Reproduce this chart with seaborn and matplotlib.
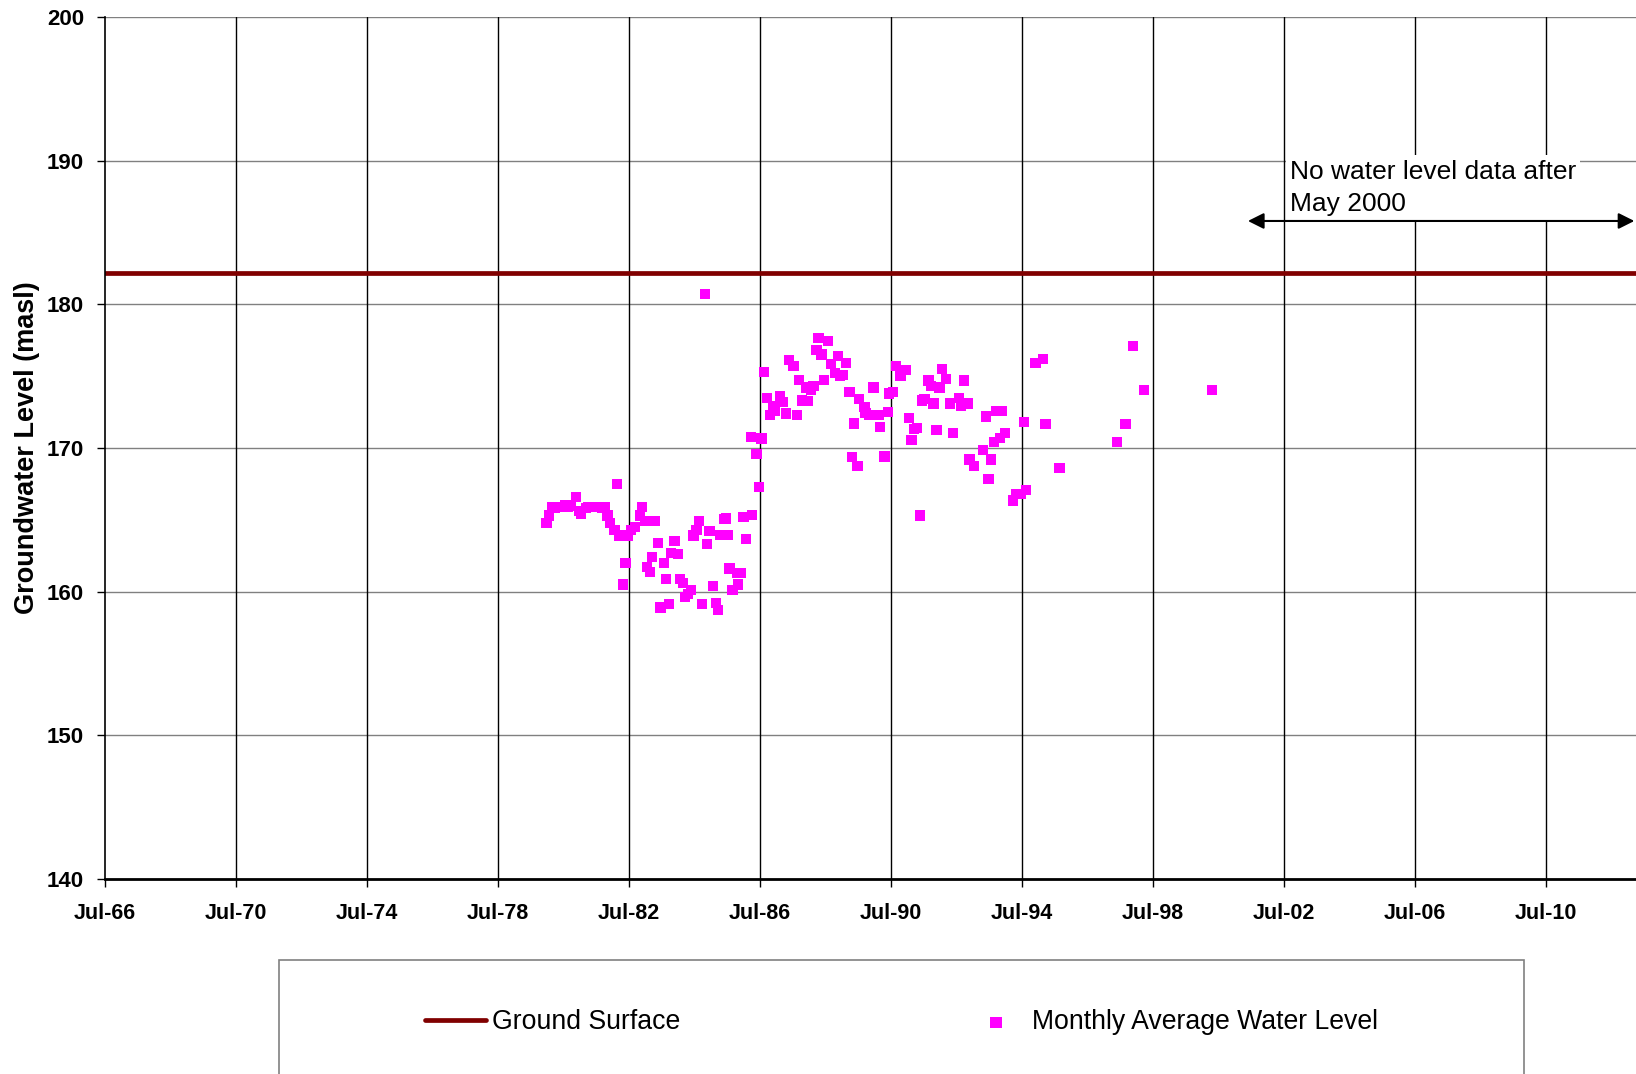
import matplotlib
matplotlib.use("Agg")
import matplotlib.pyplot as plt
import matplotlib.patches as mpatches
import seaborn as sns
import pandas as pd

# Monthly average water level (decimal year, masl)
water_year = [
    1979.98, 1980.06, 1980.15, 1980.23, 1980.31, 1980.39, 1980.47, 1980.55, 1980.64, 1980.72,
    1980.89, 1980.98, 1981.04, 1981.18, 1981.26, 1981.35, 1981.43, 1981.51, 1981.60, 1981.68,
    1981.76, 1981.84, 1981.91, 1982.06, 1982.13, 1982.21, 1982.32, 1982.39, 1982.45, 1982.57,
    1982.68, 1982.83, 1982.90, 1983.00, 1983.05, 1983.15, 1983.21, 1983.30, 1983.39, 1983.46,
    1983.56, 1983.64, 1983.72, 1983.79, 1983.89, 1984.00, 1984.05, 1984.15, 1984.22, 1984.30,
    1984.40, 1984.47, 1984.56, 1984.64, 1984.73, 1984.83, 1984.89, 1984.96, 1985.06, 1985.15,
    1985.22, 1985.27, 1985.42, 1985.47, 1985.52, 1985.57, 1985.66, 1985.79, 1985.83, 1985.91,
    1986.00, 1986.07, 1986.23, 1986.25, 1986.39, 1986.47, 1986.55, 1986.63, 1986.71, 1986.81,
    1986.89, 1986.96, 1987.11, 1987.19, 1987.29, 1987.38, 1987.52, 1987.63, 1987.70, 1987.78,
    1987.90, 1987.96, 1988.06, 1988.13, 1988.23, 1988.29, 1988.38, 1988.46, 1988.57, 1988.67,
    1988.80, 1988.89, 1988.95, 1989.02, 1989.13, 1989.23, 1989.31, 1989.38, 1989.48, 1989.53,
    1989.69, 1989.72, 1989.84, 1989.97, 1990.12, 1990.16, 1990.30, 1990.40, 1990.45, 1990.57,
    1990.65, 1990.79, 1990.81, 1990.96, 1991.06, 1991.13, 1991.21, 1991.29, 1991.39, 1991.45,
    1991.52, 1991.65, 1991.72, 1991.80, 1991.89, 1991.98, 1992.06, 1992.18, 1992.30, 1992.40,
    1992.57, 1992.64, 1992.72, 1992.84, 1992.90, 1993.04, 1993.31, 1993.41, 1993.48, 1993.56,
    1993.64, 1993.72, 1993.82, 1993.90, 1993.99, 1994.23, 1994.31, 1994.48, 1994.56, 1994.63,
    1994.91, 1995.14, 1995.22, 1995.65, 1997.41, 1997.66, 1997.89, 1998.23, 2000.31,
]
water_level = [
    164.8, 165.3, 165.9, 165.8, 165.9, 165.9, 165.9, 166.0, 165.9, 166.0,
    166.6, 165.6, 165.4, 165.8, 165.9, 165.9, 165.9, 165.9, 165.9, 165.8,
    165.9, 165.3, 164.8, 164.3, 167.5, 163.9, 160.5, 162.0, 163.9, 164.3,
    164.5, 165.3, 165.9, 164.9, 161.7, 161.35, 162.4, 164.9, 163.4, 158.9,
    162.0, 160.9, 159.15, 162.7, 163.5, 162.6, 160.9, 160.6, 159.65, 159.85,
    160.1, 163.9, 164.3, 164.9, 159.15, 180.7, 163.3, 164.2, 160.4, 159.2,
    158.7, 163.95, 165.05, 165.1, 163.95, 161.6, 160.1, 161.3, 160.5, 161.3,
    165.2, 163.65, 170.75, 165.35, 169.6, 167.3, 170.65, 175.3, 173.5, 172.3,
    172.9, 172.6, 173.6, 173.2, 172.4, 176.1, 175.7, 172.3, 174.75, 173.3,
    174.2, 173.25, 174.05, 174.3, 176.8, 177.65, 176.5, 174.75, 177.45, 175.85,
    175.2, 176.4, 175.0, 175.1, 175.9, 173.9, 169.35, 171.7, 168.75, 173.4,
    172.85, 172.45, 172.3, 174.2, 172.3, 171.45, 169.4, 172.5, 173.8, 173.9,
    175.7, 175.0, 175.1, 175.45, 172.1, 170.55, 171.3, 171.4, 165.3, 173.3,
    173.4, 174.7, 174.3, 173.1, 171.25, 174.2, 175.5, 174.8, 173.1, 171.05,
    173.5, 172.9, 174.7, 173.1, 169.2, 168.75, 169.85, 172.2, 167.85, 169.2,
    170.4, 172.55, 170.7, 172.55, 171.05, 166.35, 166.8, 166.8, 171.8, 167.05,
    175.9, 176.2, 171.65, 168.6, 170.4, 171.65, 177.1, 174.05, 174.05,
]

ground_surface = 182.2

tick_years = [1966.5, 1970.5, 1974.5, 1978.5, 1982.5, 1986.5, 1990.5, 1994.5,
              1998.5, 2002.5, 2006.5, 2010.5]
tick_labels = ["Jul-66", "Jul-70", "Jul-74", "Jul-78", "Jul-82", "Jul-86",
               "Jul-90", "Jul-94", "Jul-98", "Jul-02", "Jul-06", "Jul-10"]
y_ticks = [140, 150, 160, 170, 180, 190, 200]

note_text = "No water level data after\nMay 2000"
note_start = 2001.4

df = pd.DataFrame({"year": water_year, "level": water_level})

sns.set_theme(style="white")
plt.rcParams["font.family"] = ["Liberation Sans", "DejaVu Sans"]
plt.rcParams["text.color"] = "black"

fig = plt.figure(figsize=(16.36, 10.74), dpi=100)
ax = fig.add_axes([0.0642, 0.1816, 0.9358, 0.8026])

x_min, x_max = 1966.5, 2013.25
ax.set_xlim(x_min, x_max)
ax.set_ylim(140, 200)

# grid: grey horizontals, black verticals
for yv in y_ticks[1:]:
    ax.axhline(yv, color="#808080", lw=1.0, zorder=0)
for xv in tick_years[1:]:
    ax.axvline(xv, color="black", lw=1.0, zorder=0)

ax.axhline(ground_surface, color="#800000", lw=3.4, zorder=2, label="Ground Surface")

sns.scatterplot(data=df, x="year", y="level", ax=ax, marker="s", s=55,
                color="#FF00FF", edgecolor="none", zorder=3,
                label="Monthly Average Water Level", legend=False)

ax.set_xticks(tick_years)
ax.set_xticklabels(tick_labels)
ax.set_yticks(y_ticks)
ax.tick_params(axis="x", direction="out", length=6, width=1, color="black",
               pad=11, labelsize=15.5, labelcolor="black")
ax.tick_params(axis="y", direction="out", length=6, width=1, color="black",
               pad=9, labelsize=16, labelcolor="black")
ax.tick_params(bottom=True, left=True)
for lab in ax.get_xticklabels() + ax.get_yticklabels():
    lab.set_fontweight("bold")

ax.set_xlabel("")
ax.set_ylabel("Groundwater Level (masl)", fontsize=19.5, fontweight="bold",
              color="black")
ax.yaxis.set_label_coords(-0.0427, 0.5)

for side in ["top", "right"]:
    ax.spines[side].set_visible(False)
ax.spines["left"].set_color("black")
ax.spines["left"].set_linewidth(1.2)
ax.spines["bottom"].set_color("black")
ax.spines["bottom"].set_linewidth(2.0)

# annotation arrow and note
ax.annotate("", xy=(x_max - 0.05, 185.8), xytext=(note_start, 185.8),
            arrowprops=dict(arrowstyle="<|-|>", color="black", lw=1.5,
                            mutation_scale=24, shrinkA=0, shrinkB=0),
            zorder=5, annotation_clip=False)
ax.text(2002.68, 188.1, note_text, fontsize=19, va="center", ha="left",
        linespacing=1.45, zorder=4, color="black",
        bbox=dict(facecolor="white", edgecolor="none", pad=3))

# legend box
fig.patches.append(mpatches.Rectangle((279 / 1636, -0.02), (1524 - 279) / 1636,
                                      1 - 960 / 1074 + 0.02,
                                      transform=fig.transFigure,
                                      facecolor="white", edgecolor="#808080",
                                      lw=1.2, zorder=0))
handles, labels = ax.get_legend_handles_labels()
fig.legend(handles, labels, loc="center", bbox_to_anchor=(0.551, 0.048),
           ncol=2, frameon=False, fontsize=19.2, handlelength=2.3,
           handletextpad=0.2, columnspacing=10.7, markerscale=1.1,
           labelcolor="black")

fig.savefig("out.png", dpi=100)
